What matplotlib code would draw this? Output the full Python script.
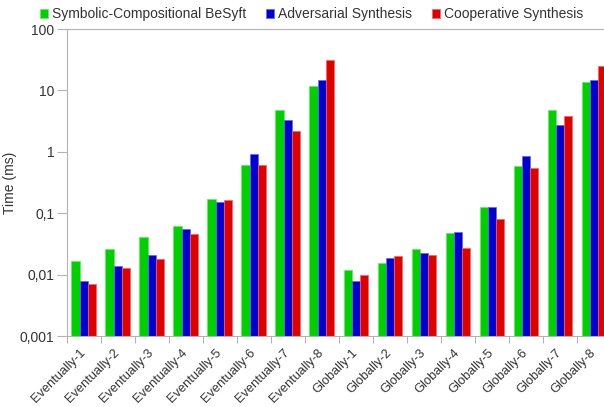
import numpy as np
import matplotlib
matplotlib.use('Agg')
import matplotlib.pyplot as plt
from matplotlib.ticker import FixedLocator, FixedFormatter

plt.rcParams['font.family'] = ['Liberation Sans', 'DejaVu Sans']
plt.rcParams['font.size'] = 10

categories = ['Eventually-1', 'Eventually-2', 'Eventually-3', 'Eventually-4',
              'Eventually-5', 'Eventually-6', 'Eventually-7', 'Eventually-8',
              'Globally-1', 'Globally-2', 'Globally-3', 'Globally-4',
              'Globally-5', 'Globally-6', 'Globally-7', 'Globally-8']
besyft = [0.0156, 0.0252, 0.0394, 0.0619, 0.170, 0.616, 4.74, 11.8,
          0.0107, 0.0147, 0.0249, 0.0464, 0.126, 0.58, 4.8, 13.5]
adversarial = [0.0070, 0.0129, 0.0199, 0.0547, 0.154, 0.93, 3.33, 14.9,
               0.0069, 0.0177, 0.0216, 0.048, 0.126, 0.845, 2.7, 14.6]
cooperative = [0.0060, 0.0119, 0.0168, 0.0447, 0.162, 0.60, 2.21, 31.6,
               0.0089, 0.0188, 0.0199, 0.0258, 0.0784, 0.545, 3.79, 25.2]
series_names = ['Symbolic-Compositional BeSyft', 'Adversarial Synthesis',
                'Cooperative Synthesis']
ytick_vals = [0.001, 0.01, 0.1, 1, 10, 100]
ytick_labels = ['0,001', '0,01', '0,1', '1', '10', '100']

colors = ['#00d000', '#0000d0', '#e00000']
edges = ['#66e866', '#6666ee', '#f06666']
grey = '#b3b3b3'
txt = '#333333'

fig = plt.figure(figsize=(6.04, 4.07), dpi=100)
ax = fig.add_axes([0.1109, 0.1744, 0.9007, 0.7543])

x = np.arange(len(categories))
w = 0.245
for i, (vals, c, ec, name) in enumerate(zip([besyft, adversarial, cooperative],
                                            colors, edges, series_names)):
    ax.bar(x + (i - 1) * w, vals, w, bottom=0.001, color=c, edgecolor=ec,
           linewidth=0.5, label=name)

ax.set_yscale('log')
ax.set_ylim(0.001, 100)
ax.set_xlim(-0.5, len(categories) - 0.5)
ax.yaxis.set_major_locator(FixedLocator(ytick_vals))
ax.yaxis.set_major_formatter(FixedFormatter(ytick_labels))
ax.yaxis.set_minor_locator(FixedLocator([]))
ax.set_ylabel('Time (ms)', color=txt)
ax.yaxis.set_label_coords(-0.092, 0.5)

ax.set_xticks(x)
ax.set_xticklabels(categories, rotation=45, ha='right', va='center',
                   rotation_mode='anchor', color=txt, fontsize=9.2)
ax.set_xticks(np.arange(len(categories) + 1) - 0.5, minor=True)
ax.tick_params(axis='x', which='major', length=0, pad=11)
ax.tick_params(axis='x', which='minor', length=5, color=grey, width=0.8)
ax.tick_params(axis='y', which='major', length=7, color=grey, width=0.8,
               labelcolor=txt, pad=2)

for s in ax.spines.values():
    s.set_color(grey)
    s.set_linewidth(0.8)

fig.legend(loc='center', bbox_to_anchor=(311.5 / 604, 0.9656), ncol=3,
           frameon=False, handlelength=0.6, handleheight=0.6,
           handletextpad=0.3, columnspacing=1.4, labelcolor=txt,
           borderaxespad=0, borderpad=0)

fig.savefig('out.png', dpi=100)
